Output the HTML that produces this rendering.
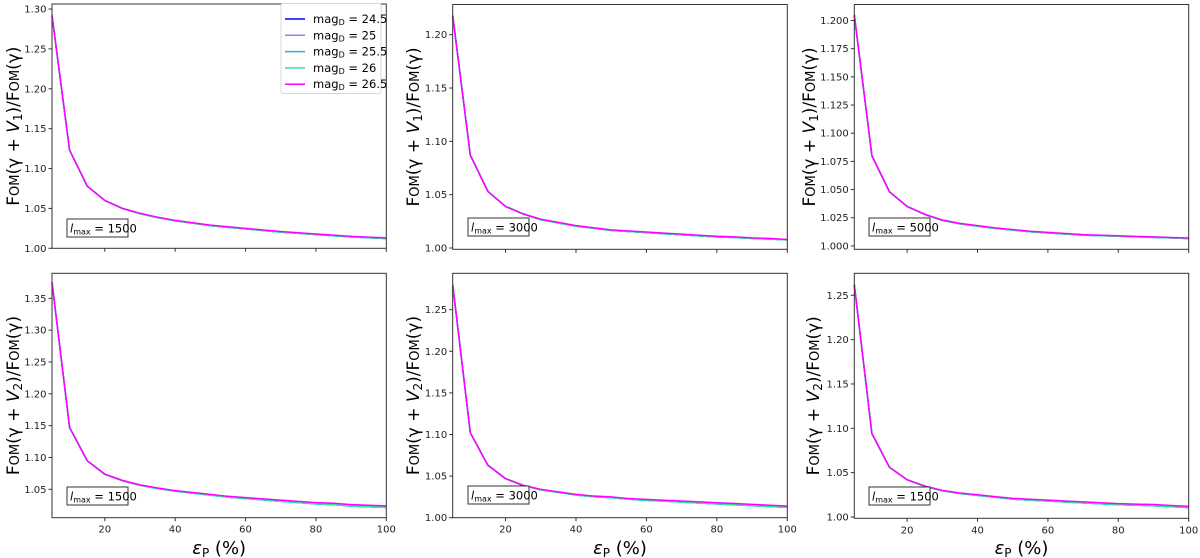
<!DOCTYPE html>
<html><head><meta charset="utf-8">
<style>
html,body{margin:0;padding:0;background:#fff;}
svg{display:block;font-family:"DejaVu Sans","Liberation Sans",sans-serif;}
</style></head>
<body>
<svg id="fig" width="1200" height="558" viewBox="0 0 1200 558" xmlns="http://www.w3.org/2000/svg"></svg>
<script>
// ---- data ----
const epsP = [5,10,15,20,25,30,35,40,45,50,55,60,65,70,75,80,85,90,95,100];
const seriesLabels = ["24.5","25","25.5","26","26.5"];
// panel 1: V1, lmax 1500
const p1Top  = [1.292,1.123,1.078,1.060,1.050,1.044,1.039,1.035,1.032,1.029,1.027,1.025,1.023,1.021,1.0195,1.018,1.0165,1.015,1.014,1.013];
const p1Base = [1.292,1.123,1.078,1.060,1.050,1.0435,1.0385,1.0345,1.0315,1.0285,1.0263,1.0243,1.0223,1.0203,1.0188,1.0173,1.0158,1.0143,1.0133,1.0123];
// panel 2: V1, lmax 3000
const p2Top  = [1.218,1.087,1.053,1.039,1.032,1.027,1.024,1.021,1.019,1.017,1.016,1.015,1.014,1.013,1.012,1.011,1.0105,1.0095,1.009,1.008];
const p2Base = [1.218,1.087,1.053,1.039,1.032,1.0265,1.0235,1.0205,1.0185,1.0165,1.0155,1.0145,1.0134,1.0124,1.0114,1.0104,1.0099,1.009,1.0085,1.0076];
// panel 3: V1, lmax 5000
const p3Top  = [1.205,1.080,1.048,1.035,1.028,1.023,1.020,1.018,1.016,1.0145,1.013,1.012,1.011,1.010,1.0095,1.009,1.0085,1.008,1.0075,1.007];
const p3Base = [1.205,1.080,1.048,1.035,1.028,1.0226,1.0196,1.0176,1.0156,1.0141,1.0126,1.0116,1.0106,1.0096,1.0091,1.0086,1.0081,1.0076,1.0071,1.0066];
// panel 4: V2, lmax 1500
const p4Top  = [1.375,1.147,1.095,1.074,1.064,1.057,1.052,1.048,1.045,1.042,1.039,1.037,1.035,1.033,1.031,1.029,1.028,1.026,1.025,1.024];
const p4Base = [1.375,1.147,1.095,1.0735,1.0635,1.0563,1.0512,1.0471,1.0439,1.0408,1.0377,1.0355,1.0334,1.0313,1.0292,1.0271,1.0259,1.0238,1.0227,1.0216];
// panel 5: V2, lmax 3000
const p5Top  = [1.280,1.102,1.063,1.047,1.039,1.034,1.031,1.028,1.026,1.025,1.023,1.022,1.021,1.020,1.019,1.018,1.017,1.016,1.015,1.014];
const p5Base = [1.280,1.102,1.063,1.047,1.0385,1.0335,1.0304,1.0273,1.0252,1.0241,1.0221,1.021,1.0199,1.0188,1.0177,1.0166,1.0155,1.0145,1.0135,1.0125];
// panel 6: V2, lmax 1500
const p6Top  = [1.262,1.094,1.056,1.042,1.035,1.030,1.027,1.025,1.023,1.021,1.020,1.019,1.018,1.017,1.016,1.015,1.0145,1.014,1.013,1.012];
const p6Base = [1.262,1.094,1.056,1.042,1.0345,1.0295,1.0264,1.0243,1.0222,1.0201,1.019,1.018,1.0169,1.0159,1.0149,1.0139,1.0133,1.0127,1.0117,1.0107];
const xTicks = [20,40,60,80,100];
const yTicks1 = [1.00,1.05,1.10,1.15,1.20,1.25,1.30];
const yTicks2 = [1.00,1.05,1.10,1.15,1.20];
const yTicks3 = [1.000,1.025,1.050,1.075,1.100,1.125,1.150,1.175,1.200];
const yTicks4 = [1.05,1.10,1.15,1.20,1.25,1.30,1.35];
const yTicks5 = [1.00,1.05,1.10,1.15,1.20,1.25];
const yTicks6 = [1.00,1.05,1.10,1.15,1.20,1.25];
const lmaxLabels = ["1500","3000","5000","1500","3000","1500"];

const colors = ["#0000ff","#8f83f5","#1fb8e8","#2ee8a0","#ff00ff"];
const NS = "http://www.w3.org/2000/svg";
const svg = document.getElementById("fig");
function mk(tag, attrs, parent){
  const e = document.createElementNS(NS, tag);
  for (const k in attrs) e.setAttribute(k, attrs[k]);
  (parent||svg).appendChild(e);
  return e;
}

const panels = [
  {L:52,R:386.3,T:4,B:248.3,ymin:1.0,ymax:1.3063,ticks:yTicks1,dec:2,top:p1Top,base:p1Base,v:"1",bottom:false,ylx:19,box:[67,219]},
  {L:452.7,R:787.3,T:4.5,B:249.3,ymin:0.9988,ymax:1.2283,ticks:yTicks2,dec:2,top:p2Top,base:p2Base,v:"1",bottom:false,ylx:419,box:[468,218]},
  {L:854.3,R:1188.7,T:4.5,B:249.3,ymin:0.997,ymax:1.2142,ticks:yTicks3,dec:3,top:p3Top,base:p3Base,v:"1",bottom:false,ylx:815,box:[869,218]},
  {L:52,R:386.3,T:273.3,B:517.7,ymin:1.0054,ymax:1.3893,ticks:yTicks4,dec:2,top:p4Top,base:p4Base,v:"2",bottom:true,ylx:19,box:[67,487]},
  {L:452.7,R:787.3,T:273.3,B:517.7,ymin:1.0,ymax:1.2937,ticks:yTicks5,dec:2,top:p5Top,base:p5Base,v:"2",bottom:true,ylx:419,box:[468,486]},
  {L:854.3,R:1188.7,T:273.3,B:518.3,ymin:0.9985,ymax:1.2748,ticks:yTicks6,dec:2,top:p6Top,base:p6Base,v:"2",bottom:true,ylx:819,box:[869,487]}
];

panels.forEach((p, i) => {
  const g = mk("g", {});
  
  
  const xs = v => p.L + (v - 5) / 95 * (p.R - p.L);
  const ys = v => p.B - (v - p.ymin) / (p.ymax - p.ymin) * (p.B - p.T);

  for (let s = 0; s < 5; s++) {
    const vals = s === 4 ? p.top : p.base;
    const pts = epsP.map((x, k) => xs(x).toFixed(2) + "," + ys(vals[k]).toFixed(2)).join(" ");
    const pl = mk("polyline", {points: pts, fill: "none", stroke: colors[s], "stroke-width": 1.5, "stroke-linejoin": "round"}, g);
    
    
  }

  const fr = mk("rect", {x: p.L, y: p.T, width: p.R - p.L, height: p.B - p.T, fill: "none", stroke: "#333", "stroke-width": 1}, g);
  
  

  xTicks.forEach(t => {
    const x = xs(t);
    mk("line", {x1: x, x2: x, y1: p.B, y2: p.B + 3.5, stroke: "#333", "stroke-width": 1}, g);
    if (p.bottom) {
      const tx = mk("text", {x: x, y: p.B + 15, "font-size": 10, "text-anchor": "middle", fill: "#222"}, g);
      tx.textContent = t;
      
      
    }
  });
  p.ticks.forEach(t => {
    const y = ys(t);
    mk("line", {x1: p.L - 3.5, x2: p.L, y1: y, y2: y, stroke: "#333", "stroke-width": 1}, g);
    const ty = mk("text", {x: p.L - 5.5, y: y + 3.5, "font-size": 10, "text-anchor": "end", fill: "#222"}, g);
    ty.textContent = t.toFixed(p.dec);
    
    
  });

  const cy = (p.T + p.B) / 2;
  const yl = mk("text", {x: 0, y: 0, "font-size": 17, "text-anchor": "middle", fill: "#000",
    transform: "translate(" + p.ylx + "," + cy + ") rotate(-90)"}, g);
  
  
  yl.innerHTML = 'F<tspan font-size="13">OM</tspan>(γ + <tspan font-style="italic">V</tspan><tspan font-size="12" dy="3">' + p.v + '</tspan><tspan dy="-3">)/F</tspan><tspan font-size="13">OM</tspan>(γ)';

  if (p.bottom) {
    const xl = mk("text", {x: (p.L + p.R) / 2, y: 554, "font-size": 18, "text-anchor": "middle", fill: "#000"}, g);
    
    
    xl.innerHTML = '<tspan font-style="italic">ε</tspan><tspan font-size="12" dy="3">P</tspan><tspan dy="-3"> (%)</tspan>';
  }

  const bx = p.box[0], by = p.box[1];
  const bb = mk("rect", {x: bx, y: by, width: 61, height: 18, fill: "#fff", stroke: "#333", "stroke-width": 1}, g);
  
  
  const bt = mk("text", {x: bx + 3, y: by + 13.5, "font-size": 11.5, fill: "#000"}, g);
  
  
  bt.innerHTML = '<tspan font-style="italic">l</tspan><tspan font-size="8" dy="2">max</tspan><tspan dy="-2"> = ' + lmaxLabels[i] + '</tspan>';
});

const lg = mk("g", {});


mk("rect", {x: 281, y: 3.5, width: 100, height: 90, fill: "#fff", stroke: "#d8d8d8", "stroke-width": 1, rx: 2}, lg);
seriesLabels.forEach((lab, s) => {
  const y = 19 + s * 16.3;
  const e = mk("g", {}, lg);
  
  
  mk("line", {x1: 285, x2: 305, y1: y, y2: y, stroke: colors[s], "stroke-width": 1.5}, e);
  const t = mk("text", {x: 313, y: y + 4, "font-size": 11.5, fill: "#000"}, e);
  t.innerHTML = 'mag<tspan font-size="8" dy="2">D</tspan><tspan dy="-2"> = ' + lab + '</tspan>';
});
</script>
</body></html>
